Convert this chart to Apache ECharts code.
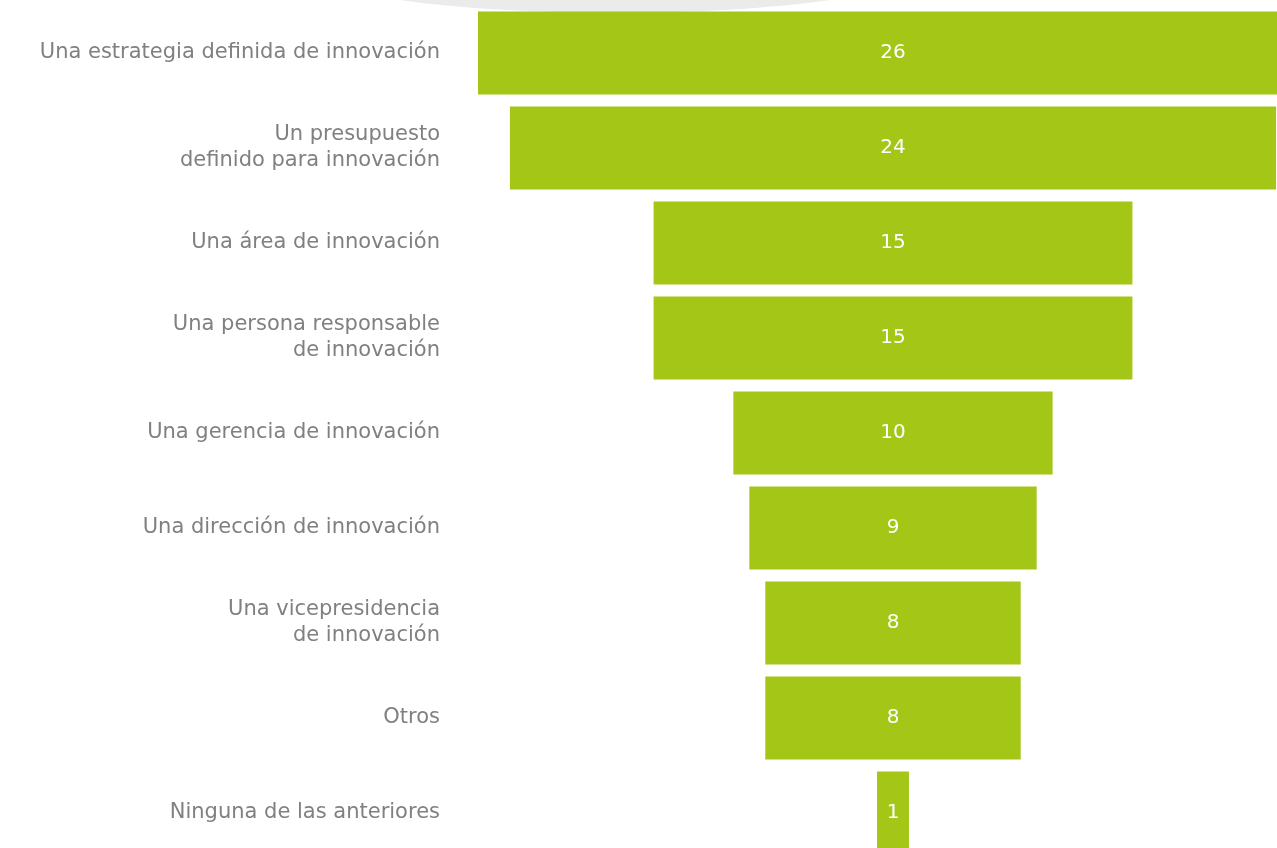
<!DOCTYPE html>
<html>
<head>
<meta charset="utf-8">
<script src="https://cdn.jsdelivr.net/npm/echarts@6/dist/echarts.min.js"></script>
<style>
  html, body { margin: 0; padding: 0; background: #fff; }
  #main { width: 1277px; height: 848px; }
</style>
</head>
<body>
<div id="main"></div>
<script>
var myChart = echarts.init(document.getElementById('main'));

var categories = [
  'Una estrategia definida de innovación',
  'Un presupuesto\ndefinido para innovación',
  'Una área de innovación',
  'Una persona responsable\nde innovación',
  'Una gerencia de innovación',
  'Una dirección de innovación',
  'Una vicepresidencia\nde innovación',
  'Otros',
  'Ninguna de las anteriores'
];
var values = [26, 24, 15, 15, 10, 9, 8, 8, 1];

var maxVal = 26;
// transparent offset so every bar is centred
var offsets = values.map(function (v) { return (maxVal - v) / 2; });

var fontFam = '"DejaVu Sans", "Open Sans", sans-serif';

var option = {
  backgroundColor: '#fff',
  animation: false,
  graphic: [{
    type: 'ellipse',
    shape: { cx: 615, cy: -40, rx: 328, ry: 53 },
    style: { fill: '#ebebeb' },
    z: -10
  }],
  grid: {
    left: 478,
    width: 830,
    top: 5.5,
    height: 855,
    outerBoundsMode: 'none'
  },
  xAxis: {
    type: 'value',
    min: 0,
    max: maxVal,
    show: false
  },
  yAxis: {
    type: 'category',
    inverse: true,
    data: categories,
    axisLine: { show: false },
    axisTick: { show: false },
    splitLine: { show: false },
    axisLabel: {
      margin: 38,
      color: '#808080',
      fontSize: 21,
      lineHeight: 26,
      fontFamily: fontFam,
      align: 'right'
    }
  },
  series: [
    {
      type: 'bar',
      stack: 'f',
      data: offsets,
      barWidth: 83,
      itemStyle: { color: 'transparent' },
      silent: true
    },
    {
      type: 'bar',
      stack: 'f',
      data: values,
      barWidth: 83,
      itemStyle: { color: '#a3c617' },
      label: {
        show: true,
        position: 'inside',
        color: '#fff',
        fontSize: 20,
        fontFamily: fontFam
      }
    }
  ]
};

myChart.setOption(option);
</script>
</body>
</html>
